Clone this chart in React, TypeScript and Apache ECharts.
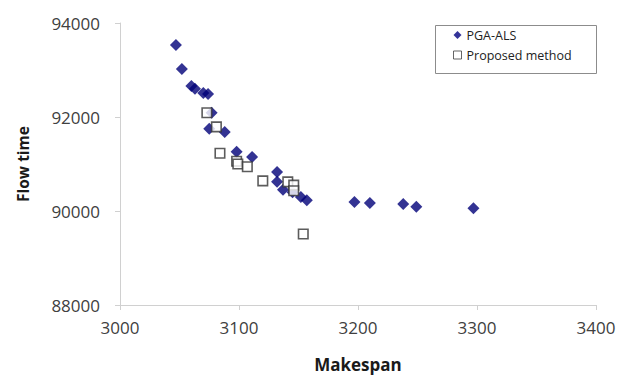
import React, { useEffect, useRef } from "react";
import * as echarts from "echarts";

const pgaX = [3047, 3052, 3060, 3063, 3070, 3074, 3077, 3075, 3088, 3098, 3111, 3132, 3132, 3137, 3145, 3152, 3157, 3197, 3210, 3238, 3249, 3297];
const pgaY = [93530, 93020, 92660, 92600, 92510, 92490, 92090, 91750, 91680, 91260, 91150, 90830, 90620, 90450, 90400, 90300, 90230, 90190, 90170, 90150, 90090, 90060];
const propX = [3073, 3081, 3084, 3098, 3099, 3107, 3120, 3141, 3146, 3146, 3154];
const propY = [92090, 91790, 91230, 91060, 91000, 90940, 90640, 90620, 90550, 90430, 89510];

const xTicks = [3000, 3100, 3200, 3300, 3400];
const yTicks = [88000, 90000, 92000, 94000];
const seriesNames = ["PGA-ALS", "Proposed method"];

export default function App() {
  const ref = useRef<HTMLDivElement>(null);
  useEffect(() => {
    if (!ref.current) return;
    const chart = echarts.init(ref.current, undefined, { renderer: "svg" });
    const font = "'Open Sans', 'Liberation Sans', sans-serif";
    chart.setOption({
      animation: false,
      backgroundColor: "#ffffff",
      grid: { left: 120, right: 25, top: 23, bottom: 74, containLabel: false, outerBoundsMode: "none" },
      xAxis: {
        type: "value",
        min: xTicks[0],
        max: xTicks[xTicks.length - 1],
        interval: 100,
        name: "Makespan",
        nameLocation: "middle",
        nameGap: 51,
        nameTextStyle: { fontFamily: font, fontWeight: "bold", fontSize: 17, color: "#1a1a1a" },
        axisLine: { show: true, lineStyle: { color: "#d0d0d0", width: 1 } },
        axisTick: { show: true, length: 5, lineStyle: { color: "#d0d0d0" } },
        axisLabel: { fontFamily: font, fontSize: 17, color: "#404040", margin: 14, formatter: (v: number) => String(v) },
        splitLine: { show: false },
      },
      yAxis: {
        type: "value",
        min: yTicks[0],
        max: yTicks[yTicks.length - 1],
        interval: 2000,
        name: "Flow time",
        nameLocation: "middle",
        nameGap: 89,
        nameTextStyle: { fontFamily: font, fontWeight: "bold", fontSize: 15.5, color: "#1a1a1a" },
        axisLine: { show: true, lineStyle: { color: "#d0d0d0", width: 1 } },
        axisTick: { show: true, length: 5, lineStyle: { color: "#d0d0d0" } },
        axisLabel: { fontFamily: font, fontSize: 17, color: "#404040", margin: 20, formatter: (v: number) => String(v) },
        splitLine: { show: false },
      },
      legend: {
        orient: "vertical",
        left: 453,
        top: 28,
        itemWidth: 8,
        itemHeight: 8,
        itemGap: 6,
        padding: 0,
        textStyle: { fontFamily: font, fontSize: 12.5, color: "#222", lineHeight: 14 },
        data: [
          { name: seriesNames[0], icon: "diamond", itemStyle: { color: "#000080" } },
          { name: seriesNames[1], icon: "rect", itemStyle: { color: "#ffffff", borderColor: "#404040", borderWidth: 1 } },
        ],
      },
      graphic: [
        {
          type: "rect",
          left: 433,
          top: 23,
          shape: { width: 161, height: 48 },
          style: { fill: "none", stroke: "#8c8c8c", lineWidth: 1 },
          z: -1,
        },
      ],
      series: [
        {
          name: seriesNames[0],
          type: "scatter",
          symbol: "diamond",
          symbolSize: 12,
          itemStyle: { color: "#000078" },
          data: pgaX.map((x, i) => [x, pgaY[i]]),
          z: 2,
        },
        {
          name: seriesNames[1],
          type: "scatter",
          symbol: "rect",
          symbolSize: 9.5,
          itemStyle: { color: "#ffffff", borderColor: "#333333", borderWidth: 1.6 },
          data: propX.map((x, i) => [x, propY[i]]),
          z: 3,
        },
      ],
    });
    return () => chart.dispose();
  }, []);
  return (
    <div
      ref={ref}
      style={{ position: "absolute", left: 0, top: 0, width: 621, height: 379 }}
    />
  );
}
